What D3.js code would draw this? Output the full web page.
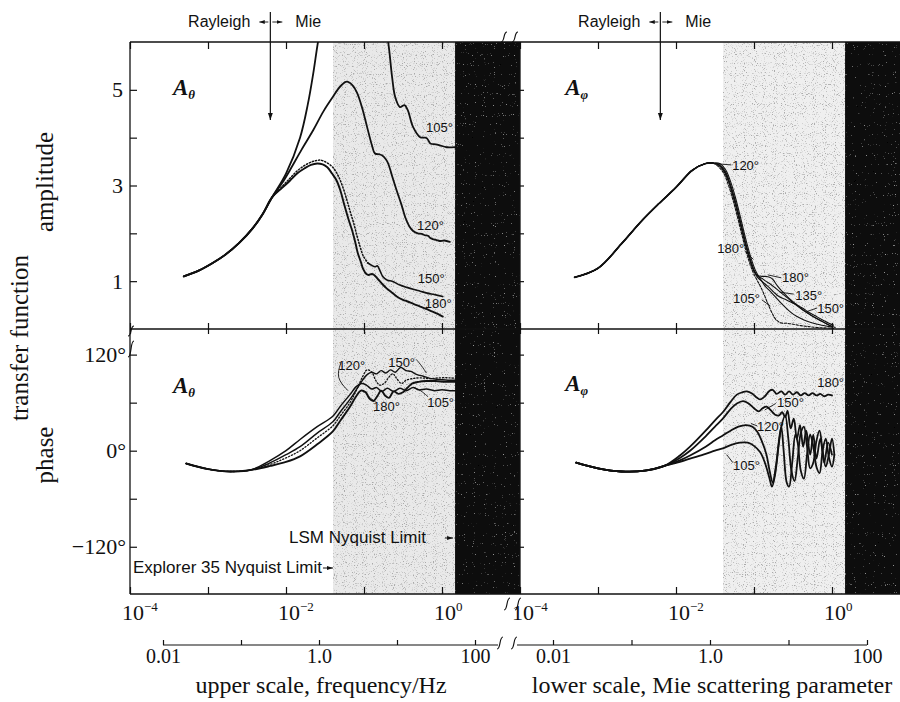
<!DOCTYPE html>
<html><head><meta charset="utf-8">
<script src="https://cdn.jsdelivr.net/npm/d3@7"></script>
<style>
body{margin:0;background:#fff;}
svg{display:block;}
.serif{font-family:"Liberation Serif","Times New Roman",serif;}
.sans{font-family:"Liberation Sans",Arial,sans-serif;}
</style></head><body>
<svg id="chart" width="900" height="702"></svg>
<script>
// ---------- tick data ----------
const decadeTicks = [1e-4, 1e-3, 1e-2, 1e-1, 1];
const decadeLabelVals = [1e-4, 1e-2, 1];
const decadeLabelExps = ["\u22124", "\u22122", "0"];
const lowerTicks = [0.01, 0.1, 1, 10, 100];
const lowerLabels = ["0.01", "", "1.0", "", "100"];
const ampTicks = [1, 2, 3, 4, 5];
const ampLabels = ["1", "", "3", "", "5"];
const phaseTicks = [-120, -60, 0, 60, 120];
const phaseLabels = ["\u2212120\u00b0", "", "0\u00b0", "", "120\u00b0"];
const shadeStart = 0.04, blackStart = 1.47, rayleighMie = 0.0063;

// ---------- series: [log10(x), value] ----------
// amplitude A_theta
const ampThetaRise = [[-3.31,1.10],[-3.12,1.22],[-2.94,1.38],[-2.78,1.55],[-2.6,1.8],[-2.42,2.12],[-2.3,2.4],[-2.18,2.75]];
const ampTheta105 = [[-2.0,3.25],[-1.82,4.0],[-1.72,4.7],[-1.65,5.35],[-1.59,6.0],[-1.5,6.8],[-1.3,8.2],[-1.0,8.5],[-0.8,7.0],[-0.69,6.0],[-0.64,5.27],[-0.6,4.85],[-0.54,4.64],[-0.48,4.68],[-0.44,4.58],[-0.37,4.22],[-0.28,4.01],[-0.22,4.0],[-0.19,3.98],[-0.15,3.88],[-0.08,3.86],[-0.03,3.84],[0.06,3.8],[0.17,3.8],[0.25,3.79]];
const ampTheta120 = [[-2.05,3.05],[-1.95,3.32],[-1.8,3.75],[-1.65,4.16],[-1.52,4.55],[-1.4,4.85],[-1.3,5.08],[-1.22,5.17],[-1.15,5.1],[-1.09,4.94],[-1.02,4.6],[-0.96,4.22],[-0.9,3.85],[-0.86,3.67],[-0.8,3.65],[-0.77,3.63],[-0.72,3.55],[-0.69,3.46],[-0.64,3.2],[-0.58,2.89],[-0.52,2.6],[-0.47,2.33],[-0.42,2.15],[-0.37,2.05],[-0.31,2.0],[-0.26,1.99],[-0.22,1.96],[-0.18,1.95],[-0.15,1.9],[-0.12,1.88],[-0.07,1.86],[-0.03,1.84],[0.03,1.85],[0.1,1.82]];
const ampTheta150Dotted = [[-2.05,2.98],[-1.95,3.15],[-1.86,3.3],[-1.76,3.42],[-1.66,3.5],[-1.56,3.53],[-1.48,3.48],[-1.4,3.38],[-1.33,3.2],[-1.27,2.96],[-1.22,2.7],[-1.18,2.47],[-1.13,2.2],[-1.09,1.95],[-1.05,1.72],[-1.01,1.53],[-0.95,1.38]];
const ampTheta150Solid = [[-0.95,1.38],[-0.9,1.33],[-0.86,1.3],[-0.83,1.32],[-0.79,1.2],[-0.76,1.1],[-0.7,1.02],[-0.64,1.0],[-0.58,0.95],[-0.54,0.92],[-0.45,0.87],[-0.37,0.83],[-0.28,0.79],[-0.19,0.75],[-0.1,0.72],[0.01,0.68]];
const ampTheta180 = [[-2.05,2.95],[-1.95,3.1],[-1.85,3.26],[-1.76,3.36],[-1.68,3.43],[-1.6,3.46],[-1.53,3.44],[-1.47,3.38],[-1.41,3.25],[-1.35,3.1],[-1.3,2.88],[-1.25,2.58],[-1.2,2.3],[-1.15,2.05],[-1.11,1.8],[-1.08,1.59],[-1.04,1.4],[-1.01,1.25],[-0.97,1.15],[-0.94,1.13],[-0.9,1.15],[-0.87,1.13],[-0.82,1.04],[-0.76,0.93],[-0.71,0.85],[-0.64,0.76],[-0.58,0.68],[-0.5,0.61],[-0.45,0.58],[-0.36,0.52],[-0.28,0.47],[-0.2,0.42],[-0.13,0.37],[-0.06,0.32],[0.01,0.26]];

// amplitude A_phi
const ampPhiRise = [[-3.3,1.08],[-3.0,1.27],[-2.7,1.78],[-2.44,2.26],[-2.22,2.62],[-2.0,2.96],[-1.79,3.32],[-1.62,3.46],[-1.53,3.47]];
const ampPhi180 = [[-1.45,3.42],[-1.38,3.28],[-1.32,3.05],[-1.26,2.72],[-1.2,2.35],[-1.15,2.02],[-1.1,1.7],[-1.05,1.42],[-1.0,1.2],[-0.96,1.12],[-0.9,1.1],[-0.85,1.1],[-0.8,1.08],[-0.76,1.04],[-0.7,0.9],[-0.64,0.79],[-0.55,0.64],[-0.46,0.52],[-0.38,0.41],[-0.29,0.31],[-0.2,0.22],[-0.13,0.16],[-0.06,0.1],[0.0,0.05]];
const ampPhi150 = [[-1.45,3.44],[-1.37,3.3],[-1.31,3.06],[-1.25,2.74],[-1.19,2.36],[-1.14,2.02],[-1.09,1.7],[-1.04,1.42],[-0.99,1.2],[-0.95,1.1],[-0.9,1.06],[-0.85,1.0],[-0.8,0.95],[-0.72,0.85],[-0.64,0.74],[-0.55,0.62],[-0.46,0.5],[-0.36,0.38],[-0.26,0.28],[-0.16,0.19],[-0.06,0.1],[0.04,0.03]];
const ampPhi135 = [[-1.45,3.43],[-1.375,3.29],[-1.315,3.05],[-1.255,2.73],[-1.195,2.35],[-1.145,2.02],[-1.095,1.7],[-1.045,1.42],[-0.995,1.2],[-0.955,1.08],[-0.9,1.0],[-0.85,0.93],[-0.8,0.86],[-0.74,0.76],[-0.68,0.68],[-0.6,0.62],[-0.55,0.58],[-0.46,0.51],[-0.38,0.44],[-0.3,0.35],[-0.21,0.27],[-0.12,0.19],[-0.04,0.12],[0.02,0.08]];
const ampPhi120 = [[-1.44,3.46],[-1.36,3.32],[-1.3,3.08],[-1.24,2.76],[-1.18,2.38],[-1.13,2.04],[-1.08,1.72],[-1.03,1.44],[-0.98,1.22],[-0.94,1.1],[-0.9,1.0],[-0.86,0.9],[-0.8,0.8],[-0.72,0.66],[-0.64,0.52],[-0.55,0.38],[-0.46,0.27],[-0.36,0.19],[-0.26,0.13],[-0.13,0.08],[0.0,0.04]];
const ampPhi105 = [[-1.46,3.4],[-1.39,3.26],[-1.33,3.02],[-1.27,2.7],[-1.21,2.33],[-1.16,2.0],[-1.11,1.68],[-1.06,1.4],[-1.01,1.18],[-0.96,1.02],[-0.92,0.9],[-0.87,0.72],[-0.82,0.52],[-0.77,0.34],[-0.72,0.2],[-0.66,0.13],[-0.58,0.12],[-0.5,0.1],[-0.4,0.07],[-0.3,0.05],[-0.18,0.03],[-0.05,0.02],[0.02,0.01]];

// phase A_theta (degrees)
const phaseThetaStart = [[-3.28,-16],[-3.0,-23],[-2.72,-26],[-2.45,-24]];
const phaseTheta105 = [[-2.2,-12],[-2.0,0],[-1.82,14],[-1.6,30],[-1.4,43],[-1.3,56],[-1.18,70],[-1.1,80],[-1.03,84],[-0.97,82],[-0.9,77],[-0.84,79],[-0.77,74],[-0.7,78],[-0.62,74],[-0.54,78],[-0.46,75],[-0.37,79],[-0.3,76],[-0.2,77],[-0.1,75],[0.0,76],[0.1,75],[0.2,75]];
const phaseTheta150 = [[-2.2,-15],[-2.0,-5],[-1.82,5],[-1.6,22],[-1.4,36],[-1.3,49],[-1.18,64],[-1.1,76],[-1.02,88],[-0.96,95],[-0.9,98],[-0.84,96],[-0.78,100],[-0.72,97],[-0.66,101],[-0.6,98],[-0.53,104],[-0.46,100],[-0.4,99],[-0.32,95],[-0.24,93],[-0.14,90],[-0.04,89],[0.1,88],[0.2,88]];
const phaseTheta120 = [[-2.2,-17],[-2.0,-9],[-1.82,0],[-1.6,16],[-1.4,31],[-1.3,44],[-1.18,60],[-1.1,75],[-1.02,92],[-0.96,101],[-0.9,98],[-0.85,88],[-0.8,82],[-0.74,84],[-0.68,92],[-0.63,96],[-0.58,90],[-0.52,84],[-0.46,88],[-0.38,90],[-0.28,91],[-0.16,90],[-0.04,91],[0.1,91],[0.2,90]];
const phaseTheta180 = [[-2.2,-19],[-2.0,-14],[-1.82,-7],[-1.6,8],[-1.4,24],[-1.3,38],[-1.18,55],[-1.1,68],[-1.04,75],[-0.98,73],[-0.93,65],[-0.88,62],[-0.83,68],[-0.78,75],[-0.73,69],[-0.68,66],[-0.62,74],[-0.56,71],[-0.5,73],[-0.44,79],[-0.38,84],[-0.3,86],[-0.2,87],[-0.08,87],[0.05,86],[0.2,86]];

// phase A_phi (degrees)
const phasePhiStart = [[-3.28,-15],[-3.0,-22],[-2.7,-26],[-2.4,-25],[-2.15,-19]];
const phasePhi180 = [[-1.95,-6],[-1.82,5],[-1.62,25],[-1.5,38],[-1.4,48],[-1.3,61],[-1.22,70],[-1.15,73],[-1.09,74],[-1.02,71],[-0.96,66],[-0.92,64],[-0.86,68],[-0.8,75],[-0.76,76],[-0.71,71],[-0.65,74],[-0.6,70],[-0.55,74],[-0.5,70],[-0.45,73],[-0.4,69],[-0.35,72],[-0.3,69],[-0.25,72],[-0.2,69],[-0.15,71],[-0.1,68],[-0.05,70],[0.0,69]];
const phasePhi150 = [[-1.95,-9],[-1.82,0],[-1.62,18],[-1.5,30],[-1.4,40],[-1.3,52],[-1.22,59],[-1.14,62],[-1.07,59],[-1.0,53],[-0.94,49],[-0.89,53],[-0.84,55],[-0.78,50],[-0.73,45],[-0.68,44],[-0.64,48],[-0.6,42],[-0.57,50],[-0.53,28],[-0.49,40],[-0.45,15],[-0.41,32],[-0.37,5],[-0.33,25],[-0.28,-5],[-0.24,20],[-0.2,-10],[-0.15,15],[-0.1,-15],[-0.05,10],[0.0,-5]];
const phasePhi120 = [[-1.95,-12],[-1.82,-6],[-1.62,5],[-1.5,13],[-1.4,19],[-1.3,25],[-1.2,30],[-1.1,32],[-1.02,30],[-0.96,24],[-0.9,12],[-0.84,-5],[-0.8,-25],[-0.76,-40],[-0.72,-20],[-0.66,25],[-0.6,44],[-0.56,15],[-0.52,-25],[-0.48,-38],[-0.44,-10],[-0.4,22],[-0.36,30],[-0.32,5],[-0.28,-22],[-0.24,-15],[-0.2,12],[-0.16,25],[-0.12,0],[-0.08,-20],[-0.04,-5],[0.0,15],[0.03,-5]];
const phasePhi105 = [[-1.95,-14],[-1.82,-10],[-1.62,-4],[-1.5,0],[-1.4,3],[-1.3,7],[-1.18,10],[-1.08,10],[-1.0,6],[-0.92,-2],[-0.86,-15],[-0.8,-35],[-0.77,-45],[-0.73,-30],[-0.68,10],[-0.65,30],[-0.62,0],[-0.58,-40],[-0.55,-45],[-0.51,-15],[-0.47,20],[-0.44,10],[-0.4,-25],[-0.36,-35],[-0.32,-5],[-0.28,20],[-0.24,5],[-0.2,-20],[-0.16,-28],[-0.12,0],[-0.08,15],[-0.04,-8],[0.0,-20],[0.03,-5]];

// curve labels: [text, lg, value, leader points]
const ampThetaLabels = [["105\u00b0",-0.205,4.12,[]],["120\u00b0",-0.32,2.07,[]],["150\u00b0",-0.31,0.96,[]],["180\u00b0",-0.22,0.44,[]]];
const ampPhiLabels = [
  ["120\u00b0",-1.28,3.32,[[-1.59,3.47],[-1.29,3.43]]],
  ["180\u00b0",-1.47,1.59,[[-1.12,1.63],[-1.01,1.46]]],
  ["180\u00b0",-0.64,0.98,[[-0.65,1.07],[-0.82,1.13]]],
  ["135\u00b0",-0.47,0.61,[[-0.49,0.73],[-0.67,0.77]]],
  ["105\u00b0",-1.27,0.54,[[-0.9,0.61],[-0.79,0.48]]],
  ["150\u00b0",-0.19,0.33,[[-0.19,0.44],[-0.33,0.36]]]];
const phaseThetaLabels = [
  ["120\u00b0",-1.33,101,[[-1.295,110],[-1.36,91],[-1.205,75]]],
  ["150\u00b0",-0.69,105,[[-0.33,114],[-0.26,106],[-0.2,97]]],
  ["180\u00b0",-0.885,49,[[-0.85,61],[-0.95,67.5],[-0.975,74]]],
  ["105\u00b0",-0.19,55,[[-0.18,67.5],[-0.28,76],[-0.36,79]]]];
const phasePhiLabels = [
  ["180\u00b0",-0.19,79,[]],
  ["150\u00b0",-0.705,54,[[-0.72,59],[-0.86,51]]],
  ["120\u00b0",-0.96,24,[[-0.96,31],[-1.04,34]]],
  ["105\u00b0",-1.27,-24,[[-1.27,-15],[-1.35,-5]]]];

// ---------- layout ----------
const svg = d3.select("#chart");
const TOP = 42, MID = 329, BOT = 594;
const xL = d3.scaleLog().domain([1e-4, 1]).range([130, 442]);
const xR = d3.scaleLog().domain([1e-4, 1]).range([520, 832]);
const yA = d3.scaleLinear().domain([0, 6]).range([MID, TOP]);
const yP = d3.scaleLinear().domain([-179, 152]).range([BOT, MID]);
const lowL = d3.scaleLog().domain([0.01, 100]).range([163, 475]);
const lowR = d3.scaleLog().domain([0.01, 100]).range([553, 867]);
const panels = [{xs: xL, x1: 520, id: "L"}, {xs: xR, x1: 900, id: "R"}];

const defs = svg.append("defs");
panels.forEach(p => {
  const x0 = p.xs.range()[0];
  defs.append("clipPath").attr("id", "clipA" + p.id).append("rect")
    .attr("x", x0).attr("y", TOP).attr("width", p.x1 - x0).attr("height", MID - TOP);
  defs.append("clipPath").attr("id", "clipP" + p.id).append("rect")
    .attr("x", x0).attr("y", MID).attr("width", p.x1 - x0).attr("height", BOT - MID);
});

// stipple (scanned screen) textures
function grainFilter(id, seed, rgb, k, b) {
  const f = defs.append("filter").attr("id", id).attr("x", 0).attr("y", 0).attr("width", 1).attr("height", 1);
  f.append("feTurbulence").attr("type", "fractalNoise").attr("baseFrequency", 0.9)
    .attr("numOctaves", 1).attr("seed", seed).attr("result", "noise");
  f.append("feColorMatrix").attr("in", "noise").attr("type", "matrix")
    .attr("values", `0 0 0 0 ${rgb}  0 0 0 0 ${rgb}  0 0 0 0 ${rgb}  ${k} 0 0 0 ${b}`).attr("result", "dots");
  f.append("feComposite").attr("in", "dots").attr("in2", "SourceGraphic").attr("operator", "in").attr("result", "dc");
  const m = f.append("feMerge");
  m.append("feMergeNode").attr("in", "SourceGraphic");
  m.append("feMergeNode").attr("in", "dc");
}
grainFilter("grainGrey", 7, 0.4, 6, -3.4);
grainFilter("grainBlack", 11, 0.35, 7, -4.9);

// shading
panels.forEach(p => {
  svg.append("rect").attr("x", p.xs(shadeStart)).attr("y", TOP)
    .attr("width", p.xs(blackStart) - p.xs(shadeStart)).attr("height", BOT - TOP)
    .attr("fill", p.id === "L" ? "#e9e9e9" : "#efefef").attr("filter", "url(#grainGrey)");
});

const mkLine = (xs, ys, curve) => d3.line().x(d => xs(10 ** d[0])).y(d => ys(d[1]))
  .curve(curve || d3.curveCatmullRom.alpha(0.5));

function drawSeries(g, pts, xs, ys, width, dash) {
  g.append("path").datum(pts).attr("d", mkLine(xs, ys))
    .attr("fill", "none").attr("stroke", "#111").attr("stroke-width", width)
    .attr("stroke-linejoin", "round").attr("stroke-linecap", "round")
    .attr("stroke-dasharray", dash || null);
}

// top-left amplitude A_theta
const gAL = svg.append("g").attr("clip-path", "url(#clipAL)");
drawSeries(gAL, ampThetaRise.concat(ampTheta105), xL, yA, 1.8);
drawSeries(gAL, ampThetaRise.concat(ampTheta120), xL, yA, 1.8);
drawSeries(gAL, [ampThetaRise[ampThetaRise.length - 1]].concat(ampTheta150Dotted), xL, yA, 1.5, "1.2,2");
drawSeries(gAL, ampTheta150Solid, xL, yA, 1.6);
drawSeries(gAL, ampThetaRise.concat(ampTheta180), xL, yA, 1.9);

// top-right amplitude A_phi
const gAR = svg.append("g").attr("clip-path", "url(#clipAR)");
[ampPhi180, ampPhi150, ampPhi135, ampPhi120].forEach(s =>
  drawSeries(gAR, ampPhiRise.concat(s), xR, yA, 1.1));
drawSeries(gAR, ampPhiRise.concat(ampPhi105), xR, yA, 1.1, "2.5,1.5");
drawSeries(gAR, ampPhiRise, xR, yA, 1.8);

// bottom-left phase A_theta
const gPL = svg.append("g").attr("clip-path", "url(#clipPL)");
drawSeries(gPL, phaseThetaStart.concat(phaseTheta105), xL, yP, 1.5);
drawSeries(gPL, phaseThetaStart.concat(phaseTheta150), xL, yP, 1.4);
drawSeries(gPL, phaseThetaStart.concat(phaseTheta120), xL, yP, 1.3, "1.2,2");
drawSeries(gPL, phaseThetaStart.concat(phaseTheta180), xL, yP, 1.9);

// bottom-right phase A_phi
const gPR = svg.append("g").attr("clip-path", "url(#clipPR)");
[phasePhi180, phasePhi150, phasePhi120, phasePhi105].forEach(s =>
  drawSeries(gPR, phasePhiStart.concat(s), xR, yP, 1.8));

// black bands (over curves)
panels.forEach(p => {
  svg.append("rect").attr("x", p.xs(blackStart)).attr("y", TOP)
    .attr("width", p.x1 - p.xs(blackStart)).attr("height", BOT - TOP)
    .attr("fill", "#0a0a0a").attr("filter", "url(#grainBlack)");
});

// curve labels
function drawLabels(list, xs, ys) {
  list.forEach(([t, lg, v, leader]) => {
    svg.append("text").attr("class", "sans").attr("x", xs(10 ** lg)).attr("y", ys(v))
      .style("font-size", "13px").attr("fill", "#111").text(t);
    if (leader.length) {
      svg.append("path").datum(leader).attr("d", mkLine(xs, ys, d3.curveBasis))
        .attr("fill", "none").attr("stroke", "#111").attr("stroke-width", 0.9);
    }
  });
}
drawLabels(ampThetaLabels, xL, yA);
drawLabels(ampPhiLabels, xR, yA);
drawLabels(phaseThetaLabels, xL, yP);
drawLabels(phasePhiLabels, xR, yP);

// frames
const frame = svg.append("g").attr("stroke", "#111").attr("stroke-width", 1.3);
panels.forEach(p => {
  const x0 = p.xs.range()[0];
  [TOP, MID, BOT].forEach(y => frame.append("line").attr("x1", x0).attr("x2", p.x1).attr("y1", y).attr("y2", y));
  frame.append("line").attr("x1", x0).attr("x2", x0).attr("y1", TOP).attr("y2", BOT);
});

// axes
function styleAxis(g) {
  g.select(".domain").remove();
  g.selectAll("line").attr("stroke", "#111").attr("stroke-width", 1.2);
  g.selectAll("text").attr("class", "serif").style("font-size", "22px").attr("fill", "#111");
}
panels.forEach(p => {
  svg.append("g").attr("transform", `translate(0,${TOP})`)
    .call(d3.axisTop(p.xs).tickValues(decadeTicks).tickSize(-7).tickFormat("")).call(styleAxis);
  svg.append("g").attr("transform", `translate(0,${MID})`)
    .call(d3.axisTop(p.xs).tickValues(decadeTicks).tickSize(6).tickFormat("")).call(styleAxis);
  svg.append("g").attr("transform", `translate(0,${MID})`)
    .call(d3.axisBottom(p.xs).tickValues(decadeTicks).tickSize(5).tickFormat("")).call(styleAxis);
  svg.append("g").attr("transform", `translate(0,${BOT})`)
    .call(d3.axisBottom(p.xs).tickValues(decadeTicks).tickSize(-7).tickFormat("")).call(styleAxis);
  const x0 = p.xs.range()[0];
  const isL = p.id === "L";
  svg.append("g").attr("transform", `translate(${x0},0)`)
    .call(d3.axisLeft(yA).tickValues(ampTicks).tickSize(isL ? -7 : -4).tickPadding(7)
      .tickFormat((d, i) => isL ? ampLabels[i] : "")).call(styleAxis);
  svg.append("g").attr("transform", `translate(${x0},0)`)
    .call(d3.axisLeft(yP).tickValues(phaseTicks).tickSize(isL ? -7 : -4).tickPadding(4)
      .tickFormat((d, i) => isL ? phaseLabels[i] : "")).call(styleAxis);
  // decade labels
  decadeLabelVals.forEach((v, i) => {
    const t = svg.append("text").attr("class", "serif").attr("x", p.xs(v) - 8).attr("y", 620)
      .style("font-size", "22px").attr("fill", "#111");
    t.append("tspan").text("10");
    t.append("tspan").attr("dy", -9).style("font-size", "13px").text(decadeLabelExps[i]);
  });
});

// lower scale axes
[[lowL, 163, 498], [lowR, 517, 867]].forEach(([s, a, b]) => {
  svg.append("line").attr("x1", a).attr("x2", b).attr("y1", 645).attr("y2", 645)
    .attr("stroke", "#111").attr("stroke-width", 1.2);
  svg.append("g").attr("transform", "translate(0,645)")
    .call(d3.axisBottom(s).tickValues(lowerTicks).tickSize(-5).tickPadding(4)
      .tickFormat((d, i) => lowerLabels[i])).call(styleAxis)
    .selectAll("text").style("font-size", "20px");
});

// break marks
function breakMark(x, y, h) {
  svg.append("path").attr("d", `M${x - 3},${y + h / 2} C${x + 1},${y + h / 2} ${x - 1},${y - h / 2} ${x + 3},${y - h / 2}`)
    .attr("fill", "none").attr("stroke", "#111").attr("stroke-width", 1.2);
}
breakMark(504, 37, 10); breakMark(515, 37, 10);
breakMark(507, 604, 12); breakMark(518, 604, 12);
breakMark(500, 643, 12); breakMark(514, 643, 12);
breakMark(131, 331, 10); breakMark(131, 349, 16);

// axis titles
const titles = svg.append("g").attr("class", "serif").attr("fill", "#111").style("font-size", "25px");
titles.append("text").attr("transform", "translate(53,182) rotate(-90)").attr("text-anchor", "middle").text("amplitude");
titles.append("text").attr("transform", "translate(28,338) rotate(-90)").attr("text-anchor", "middle").text("transfer function");
titles.append("text").attr("transform", "translate(53,455) rotate(-90)").attr("text-anchor", "middle").text("phase");
titles.append("text").attr("x", 321).attr("y", 693).attr("text-anchor", "middle").style("font-size", "24px").text("upper scale, frequency/Hz");
titles.append("text").attr("x", 712).attr("y", 693).attr("text-anchor", "middle").style("font-size", "24px").text("lower scale, Mie scattering parameter");

// panel labels
function panelLabel(x, y, sub) {
  const t = svg.append("text").attr("class", "serif").attr("x", x).attr("y", y)
    .style("font-style", "italic").style("font-weight", "bold").style("font-size", "23px").attr("fill", "#111");
  t.append("tspan").text("A");
  t.append("tspan").attr("dy", 4).style("font-size", "13px").text(sub);
}
panelLabel(xL(10 ** -3.45), yA(4.9), "\u03b8");
panelLabel(xR(10 ** -3.42), yA(4.9), "\u03c6");
panelLabel(xL(10 ** -3.45), yP(72), "\u03b8");
panelLabel(xR(10 ** -3.42), yP(74), "\u03c6");

// arrowheads
defs.append("marker").attr("id", "ah").attr("viewBox", "0 0 10 10").attr("refX", 10).attr("refY", 5)
  .attr("markerWidth", 6).attr("markerHeight", 6).attr("orient", "auto-start-reverse")
  .append("path").attr("d", "M0,1.5 L10,5 L0,8.5 z").attr("fill", "#111");

function arrow(x1, y1, x2, y2, w) {
  svg.append("line").attr("x1", x1).attr("y1", y1).attr("x2", x2).attr("y2", y2)
    .attr("stroke", "#111").attr("stroke-width", w || 1).attr("marker-end", "url(#ah)");
}

// Rayleigh / Mie
panels.forEach(p => {
  const x = p.xs(rayleighMie);
  arrow(x, 12, x, 120, 1.2);
  arrow(x - 2, 22, x - 11, 22, 0.9);
  arrow(x + 2, 22, x + 12, 22, 0.9);
  svg.append("text").attr("class", "sans").attr("x", x - 20).attr("y", 27).attr("text-anchor", "end")
    .style("font-size", "16px").attr("fill", "#111").text("Rayleigh");
  svg.append("text").attr("class", "sans").attr("x", x + 25).attr("y", 27)
    .style("font-size", "16px").attr("fill", "#111").text("Mie");
});

// Nyquist limits
const xb = xL(blackStart), xs0 = xL(shadeStart);
svg.append("text").attr("class", "sans").attr("x", xb - 166).attr("y", 543)
  .style("font-size", "17px").attr("fill", "#111").text("LSM Nyquist Limit");
arrow(xb - 10, 538, xb - 2, 538, 1);
svg.append("text").attr("class", "sans").attr("x", 133).attr("y", 573)
  .style("font-size", "17px").attr("fill", "#111").text("Explorer 35 Nyquist Limit");
arrow(xs0 - 10, 568, xs0, 568, 1);
</script>
</body></html>
